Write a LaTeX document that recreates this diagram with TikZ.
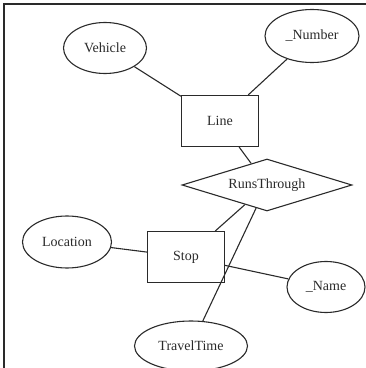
\documentclass[tikz,border=0pt]{standalone}
\usepackage{fontspec}
\setmainfont{Liberation Serif}
\usetikzlibrary{shapes.geometric}
\definecolor{ink}{HTML}{2A2A2A}
\begin{document}
\begin{tikzpicture}[x=1pt,y=1pt,
  every node/.style={font=\fontsize{14}{16}\selectfont, text=ink},
  attr/.style={ellipse, draw=ink, line width=1.1pt, inner sep=0pt},
  entity/.style={rectangle, draw=ink, line width=1.1pt, inner sep=0pt,
    minimum width=77pt, minimum height=51pt},
  rel/.style={diamond, draw=ink, line width=1.1pt, inner sep=0pt, aspect=3.3,
    minimum width=170pt, minimum height=52pt},
  link/.style={draw=ink, line width=1.1pt}]
\useasboundingbox (0,0) rectangle (366,368);
% frame along the top and left edges
\draw[ink, line width=2pt] (4,0) -- (4,364) -- (366,364);

\node[entity] (line) at (220,247) {Line};
\node[entity] (stop) at (186,111) {Stop};
\node[rel] (runs) at (267,183) {RunsThrough};

\node[attr, minimum width=83pt, minimum height=51pt] (vehicle) at (105,320) {Vehicle};
\node[attr, minimum width=94pt, minimum height=53pt] (number) at (312,332) {\_Number};
\node[attr, minimum width=89pt, minimum height=52pt] (location) at (67,126) {Location};
\node[attr, minimum width=78pt, minimum height=51pt] (name) at (326,81) {\_Name};
\node[attr, minimum width=113pt, minimum height=50pt] (travel) at (191,22) {TravelTime};

\draw[link] (vehicle) -- (line);
\draw[link] (number) -- (line);
\draw[link] (line) -- (runs);
\draw[link] (runs) -- (stop);
\draw[link] (runs) -- (travel);
\draw[link] (location) -- (stop);
\draw[link] (stop) -- (name);
\end{tikzpicture}
\end{document}
